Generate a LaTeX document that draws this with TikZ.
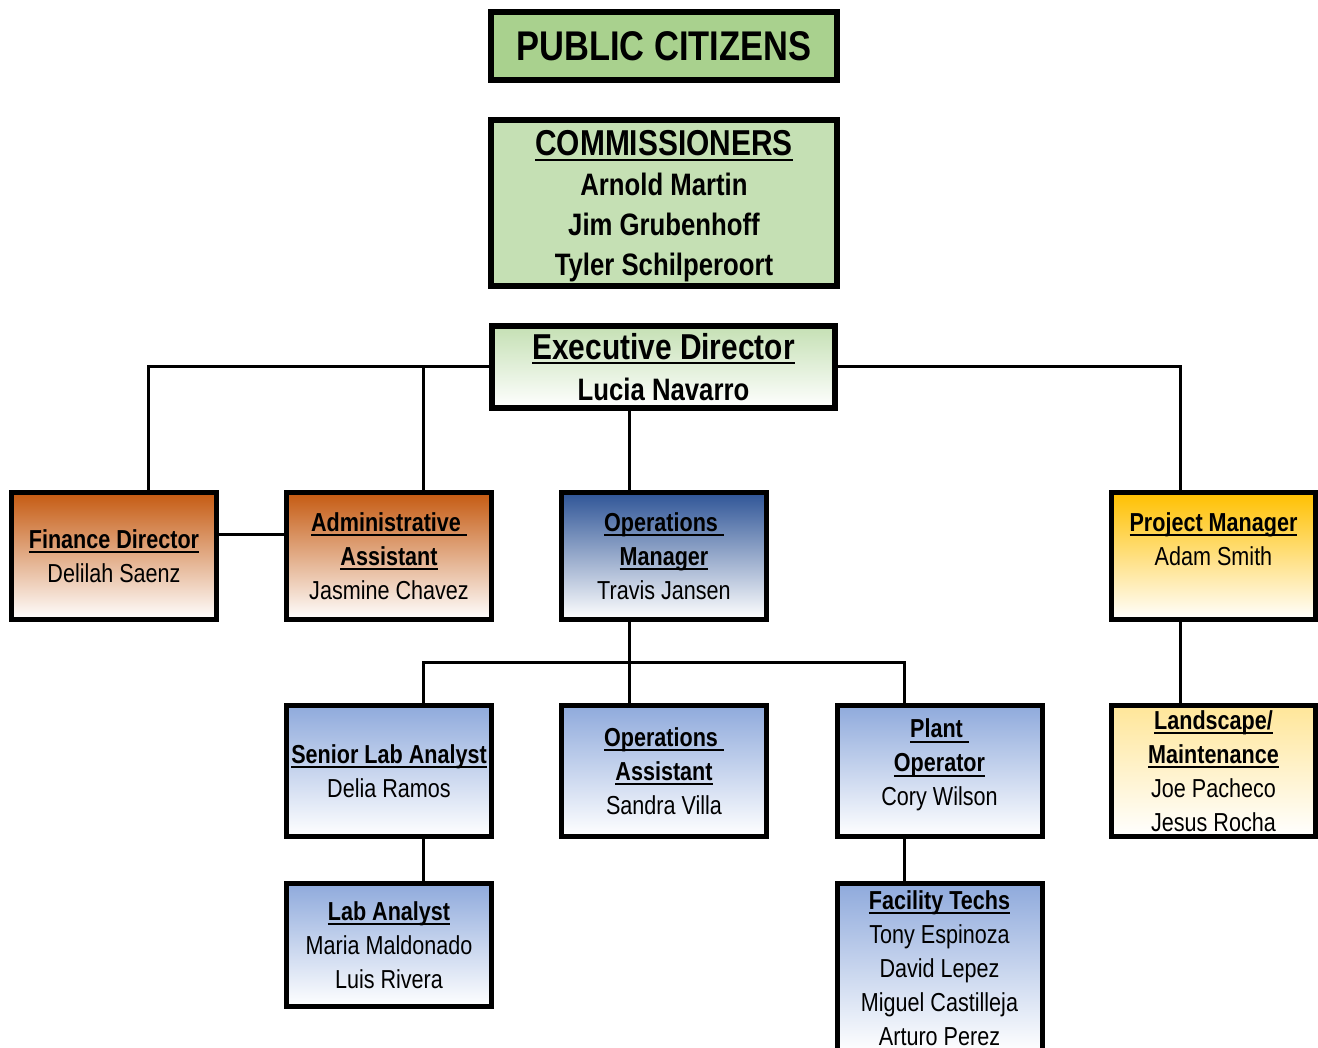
\documentclass[tikz,border=0pt]{standalone}
\usepackage{fontspec}
\setmainfont{Liberation Sans}[FakeStretch=0.83]
\usetikzlibrary{positioning,calc}
\definecolor{citizenGreen}{HTML}{A9D18E}
\definecolor{boardGreen}{HTML}{C5E0B4}
\definecolor{rustOrange}{HTML}{C55A11}
\definecolor{deepBlue}{HTML}{2F5597}
\definecolor{paleBlue}{HTML}{8FAADC}
\definecolor{goldYellow}{HTML}{FFC000}
\definecolor{paleGold}{HTML}{FFE699}
% underlined title line
\newcommand{\ttl}[1]{{\bfseries\setbox0\hbox{#1}\rlap{\rule[-5pt]{\wd0}{2pt}}\box0}}
\tikzset{
    orgbox/.style={draw=black,line width=5pt,align=center,inner sep=0pt,
        font=\fontsize{26}{34}\selectfont,minimum width=205pt,minimum height=127pt},
    topbox/.style={orgbox,line width=6pt,minimum width=346pt},
    orangebox/.style={orgbox,top color=rustOrange,bottom color=white},
    darkbluebox/.style={orgbox,top color=deepBlue,bottom color=white},
    bluebox/.style={orgbox,top color=paleBlue,bottom color=white,minimum height=131pt},
    goldbox/.style={orgbox,top color=goldYellow,bottom color=white,minimum width=204pt},
    palegoldbox/.style={orgbox,top color=paleGold,bottom color=white,
        minimum width=204pt,minimum height=131pt},
    link/.style={draw=black,line width=3pt}
}
\begin{document}
\begin{tikzpicture}[x=1pt,y=-1pt]
    \useasboundingbox (0,0) rectangle (1318,1048);
    % top of the chart
    \node[topbox,fill=citizenGreen,minimum height=68pt,
        font=\fontsize{41.5}{48}\selectfont\bfseries] (citizens) at (664,46) {PUBLIC CITIZENS};
    \node[topbox,fill=boardGreen,minimum height=166pt,
        font=\fontsize{31}{40}\selectfont\bfseries] (board) at (664,203) {
        \null\\[-8pt]{\fontsize{36}{40}\selectfont\ttl{COMMISSIONERS}}\\
        Arnold Martin\\Jim Grubenhoff\\Tyler Schilperoort};
    \node[topbox,top color=boardGreen,bottom color=white,minimum width=343pt,
        minimum height=82pt,font=\fontsize{31}{41}\selectfont\bfseries] (exec) at (663.5,367) {
        {\fontsize{36}{41}\selectfont\ttl{Executive Director}}\\Lucia Navarro};
    % second row
    \node[orangebox] (finance) at (114,556) {\ttl{Finance Director}\\Delilah Saenz};
    \node[orangebox] (admin) at (389,556) {\ttl{Administrative\ }\\\ttl{Assistant}\\Jasmine Chavez};
    \node[darkbluebox] (opsmgr) at (664,556) {\ttl{Operations\ }\\\ttl{Manager}\\Travis Jansen};
    \node[goldbox] (projmgr) at (1213.5,556) {\ttl{Project Manager}\\Adam Smith\\\null};
    % third row
    \node[bluebox] (seniorlab) at (389,771) {\ttl{Senior Lab Analyst}\\Delia Ramos};
    \node[bluebox] (opsasst) at (664,771) {\ttl{Operations\ }\\\ttl{Assistant}\\Sandra Villa};
    \node[bluebox] (plant) at (939.5,771) {\ttl{Plant\ }\\\ttl{Operator}\\Cory Wilson\\[-17pt]\null};
    \node[palegoldbox] (landscape) at (1213.5,771) {\ttl{Landscape/}\\\ttl{Maintenance}\\Joe Pacheco\\Jesus Rocha};
    % bottom row
    \node[bluebox,minimum height=123pt] (labanalyst) at (389,945) {\ttl{Lab Analyst}\\Maria Maldonado\\Luis Rivera};
    \node[bluebox,minimum height=169pt] (facility) at (939.5,968) {\ttl{Facility Techs}\\Tony Espinoza\\David Lepez\\Miguel Castilleja\\Arturo Perez};
    % connectors
    \coordinate (opsbus) at (629,662);
    \draw[link] (exec.west) -| ([xshift=34pt]finance.north);
    \draw[link] ([xshift=34pt]admin.north) |- (exec.west);
    \draw[link] (exec.east) -| ([xshift=-33.5pt]projmgr.north);
    \draw[link] ([xshift=-34.5pt]exec.south) -- ([xshift=-35pt]opsmgr.north);
    \draw[link] ([yshift=22pt]finance.east) -- ([yshift=22pt]admin.west);
    \draw[link] ([xshift=-35pt]opsmgr.south) -- (opsbus);
    \draw[link] (opsbus) -| ([xshift=34pt]seniorlab.north);
    \draw[link] (opsbus) -| ([xshift=-35.5pt]plant.north);
    \draw[link] (opsbus) -- ([xshift=-35pt]opsasst.north);
    \draw[link] ([xshift=34pt]seniorlab.south) -- ([xshift=34pt]labanalyst.north);
    \draw[link] ([xshift=-35.5pt]plant.south) -- ([xshift=-35.5pt]facility.north);
    \draw[link] ([xshift=-33.5pt]projmgr.south) -- ([xshift=-33.5pt]landscape.north);
\end{tikzpicture}
\end{document}
